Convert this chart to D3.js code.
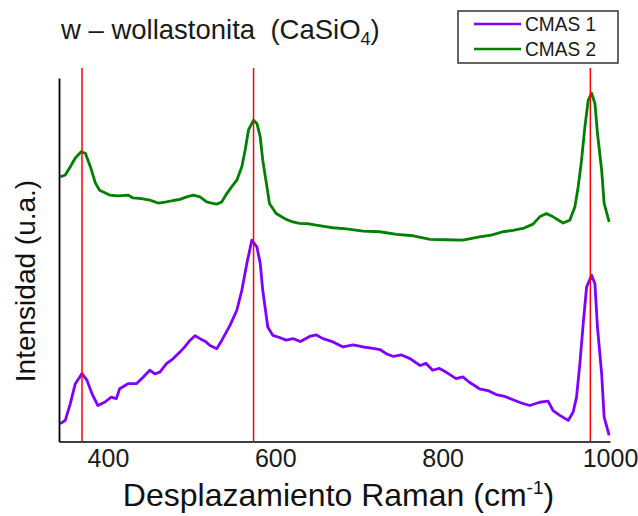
<!DOCTYPE html>
<html>
<head>
<meta charset="utf-8">
<script src="https://cdn.jsdelivr.net/npm/d3@7"></script>
<style>
  body { margin: 0; background: #fff; }
  svg { display: block; font-family: Arial, "Liberation Sans", sans-serif; }
</style>
</head>
<body>
<div id="chart"></div>
<script>
// espectros Raman (cm-1, intensidad u.a.)
const cmas2Shift = [343, 349, 355, 361, 368, 373, 379, 385, 390, 402, 412, 424, 430, 440, 450, 460, 470, 478, 486, 494, 502, 510, 518, 524, 530, 536, 542, 548, 554, 560, 564, 568, 574, 578, 582, 585, 590, 593, 601, 607, 613, 621, 629, 640, 649, 660, 669, 685, 705, 725, 745, 765, 785, 805, 824, 844, 858, 872, 884, 896, 908, 916, 924, 932, 944, 952, 958, 962, 966, 970, 974, 978, 982, 985, 990, 993, 999];
const cmas2Int = [72.8, 73.3, 75.6, 78.0, 79.7, 79.3, 75.6, 71.1, 69.1, 67.8, 67.6, 67.8, 67.0, 66.8, 66.4, 65.6, 65.9, 66.3, 66.6, 67.3, 67.8, 67.3, 65.9, 65.6, 65.3, 65.9, 68.2, 70.1, 71.9, 75.6, 80.2, 85.7, 88.4, 87.5, 83.8, 77.4, 70.1, 65.5, 62.7, 61.9, 61.1, 60.4, 60.0, 59.9, 59.5, 59.1, 58.8, 58.5, 57.9, 57.7, 57.0, 56.6, 55.6, 55.5, 55.4, 56.3, 56.8, 57.7, 58.1, 58.6, 59.8, 61.8, 62.7, 61.8, 60.1, 60.9, 64.5, 70.1, 77.4, 86.6, 93.9, 95.8, 93.0, 84.8, 74.7, 65.5, 60.4];

const cmas1Shift = [343, 349, 355, 361, 369, 375, 381, 388, 396, 404, 410, 414, 424, 434, 442, 450, 456, 462, 470, 478, 486, 492, 498, 504, 510, 516, 522, 530, 536, 546, 554, 560, 566, 572, 578, 582, 585, 591, 597, 605, 613, 621, 630, 641, 649, 657, 669, 681, 693, 705, 715, 725, 733, 741, 751, 761, 773, 780, 788, 796, 804, 816, 824, 832, 844, 854, 864, 874, 884, 894, 904, 916, 926, 932, 940, 950, 956, 960, 964, 968, 972, 978, 982, 985, 990, 993, 999];
const cmas1Int = [4.9, 5.8, 10.4, 15.9, 18.7, 16.8, 13.1, 9.9, 10.8, 12.2, 11.8, 14.5, 15.9, 15.9, 17.7, 19.6, 18.6, 19.1, 21.4, 22.8, 24.6, 26.1, 27.8, 29.1, 28.3, 27.6, 26.4, 25.5, 27.8, 32.0, 36.1, 41.6, 49.0, 55.4, 53.5, 49.0, 41.6, 31.5, 29.2, 28.6, 27.9, 28.3, 27.5, 28.9, 29.3, 28.3, 27.4, 26.0, 26.6, 26.0, 25.7, 25.3, 24.1, 23.4, 23.8, 22.8, 20.9, 21.5, 19.6, 20.1, 19.1, 17.3, 17.8, 16.3, 14.5, 14.0, 12.9, 12.4, 11.5, 10.6, 9.9, 10.8, 11.1, 8.5, 7.2, 5.8, 8.1, 12.2, 21.4, 32.4, 42.5, 45.7, 43.4, 31.5, 18.7, 6.7, 1.7];

// bandas de wollastonita
const refPeaks = [369, 574, 976.5];
const xTicks = [400, 600, 800, 1000];
const seriesNames = ["CMAS 1", "CMAS 2"];
const seriesColors = ["#8000ff", "#008000"];

const width = 638, height = 516;
const svg = d3.select("#chart").append("svg")
    .attr("width", width)
    .attr("height", height);

const x = d3.scaleLinear().domain([341.5, 1000]).range([59, 610]);
const y = d3.scaleLinear().domain([0, 102.75]).range([441.5, 68]);

const series = [
    { name: seriesNames[0], color: seriesColors[0], pts: cmas1Shift.map((s, i) => [s, cmas1Int[i]]) },
    { name: seriesNames[1], color: seriesColors[1], pts: cmas2Shift.map((s, i) => [s, cmas2Int[i]]) }
];

const line = d3.line()
    .x(d => x(d[0]))
    .y(d => y(d[1]));

// curvas
svg.append("g").selectAll("path")
    .data(series)
    .enter()
    .append("path")
    .attr("d", d => line(d.pts))
    .attr("fill", "none")
    .attr("stroke", d => d.color)
    .attr("stroke-width", 2.8)
    .attr("stroke-linejoin", "round");

// lineas verticales rojas
svg.append("g").selectAll("line")
    .data(refPeaks)
    .enter()
    .append("line")
    .attr("x1", d => x(d))
    .attr("x2", d => x(d))
    .attr("y1", y(0))
    .attr("y2", y(102.75))
    .attr("stroke", "#ff0000")
    .attr("stroke-width", 1.5);

// eje x
const gx = svg.append("g")
    .attr("transform", `translate(0,${y(0)})`)
    .call(d3.axisBottom(x).tickValues(xTicks).tickFormat(d3.format("d")).tickSize(0).tickSizeOuter(0));
gx.select(".domain").attr("stroke", "#404040").attr("stroke-width", 2);
gx.selectAll("text")
    .attr("y", 25.5)
    .attr("dy", 0)
    .attr("fill", "#1a1a1a")
    .style("font-size", "25px")
    .style("font-family", "Arial, 'Liberation Sans', sans-serif");

// eje y (sin marcas)
const yAxisScale = y.copy().domain([0, 100]).range([y(0), y(100)]);
const gy = svg.append("g")
    .attr("transform", `translate(${x(341.5)},0)`)
    .call(d3.axisLeft(yAxisScale).tickValues([]).tickSizeOuter(0));
gy.select(".domain").attr("stroke", "#000").attr("stroke-width", 1.8);

// titulo
const title = svg.append("text")
    .attr("x", 61)
    .attr("y", 39)
    .style("font-size", "27.5px")
    .style("white-space", "pre")
    .attr("fill", "#1a1a1a");
title.append("tspan").text("w – wollastonita  (CaSiO");
title.append("tspan").attr("dy", 6).style("font-size", "18px").text("4");
title.append("tspan").attr("dy", -6).text(")");

// etiqueta eje x
const xl = svg.append("text")
    .attr("x", 338.5)
    .attr("y", 506)
    .attr("text-anchor", "middle")
    .style("font-size", "32px")
    .attr("fill", "#111");
xl.append("tspan").text("Desplazamiento Raman (cm");
xl.append("tspan").attr("dy", -12).style("font-size", "19px").text("-1");
xl.append("tspan").attr("dy", 12).text(")");

// etiqueta eje y
svg.append("text")
    .attr("transform", "translate(35,281) rotate(-90)")
    .attr("text-anchor", "middle")
    .style("font-size", "28px")
    .attr("fill", "#111")
    .text("Intensidad (u.a.)");

// leyenda
const legend = svg.append("g");
legend.append("rect")
    .attr("x", 458).attr("y", 11)
    .attr("width", 160).attr("height", 52)
    .attr("fill", "#fff")
    .attr("stroke", "#333")
    .attr("stroke-width", 1.5);
const items = legend.selectAll("g.item")
    .data(series)
    .enter()
    .append("g")
    .attr("class", "item")
    .attr("transform", (d, i) => `translate(0,${24 + i * 25})`);
items.append("line")
    .attr("x1", 474).attr("x2", 521)
    .attr("y1", 0).attr("y2", 0)
    .attr("stroke", d => d.color)
    .attr("stroke-width", 2.6);
items.append("text")
    .attr("x", 525)
    .attr("y", 7)
    .attr("textLength", 71)
    .attr("lengthAdjust", "spacingAndGlyphs")
    .style("font-size", "21px")
    .attr("fill", "#1a1a1a")
    .text(d => d.name);
</script>
</body>
</html>
